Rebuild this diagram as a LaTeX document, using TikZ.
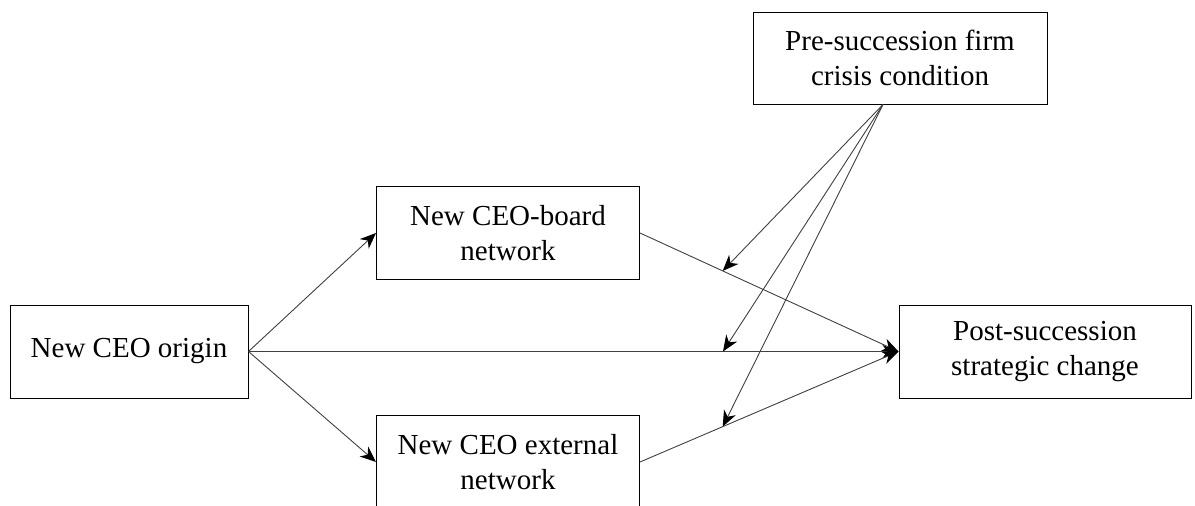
\documentclass[tikz,border=0pt]{standalone}
\usepackage{fontspec}
\setmainfont{Liberation Serif}
\usetikzlibrary{arrows.meta}

\begin{document}
\begin{tikzpicture}[x=1pt,y=-1pt,
    every node/.style={font=\fontsize{29}{35}\selectfont},
    varbox/.style={draw, line width=1pt, align=center, inner sep=0pt},
    link/.style={draw=black!75, line width=0.9pt, -{Stealth[length=16pt,width=13pt,inset=5pt,color=black]}}]
      \useasboundingbox (0,0) rectangle (1195,506);

      \node[varbox, minimum width=238pt, minimum height=93pt] (origin) at (129,351.5) {New CEO origin};
      \node[varbox, minimum width=263pt, minimum height=93pt] (board) at (508,233) {New CEO-board\\network};
      \node[varbox, minimum width=263pt, minimum height=93pt] (external) at (508,462) {New CEO external\\network};
      \node[varbox, minimum width=294pt, minimum height=92pt] (crisis) at (900,58) {Pre-succession firm\\crisis condition};
      \node[varbox, minimum width=292pt, minimum height=93pt] (post) at (1045,351.5) {Post-succession\\strategic change};

      \draw[link] (origin.east) -- (board.west);
      \draw[link] (origin.east) -- (external.west);
      \draw[link] (origin.east) -- coordinate[pos=0.73] (mid) (post.west);
      \draw[link] (board.east) -- coordinate[pos=0.32] (upper) (post.west);
      \draw[link] (external.east) -- coordinate[pos=0.32] (lower) (post.west);

      % moderating effects
      \coordinate (cs) at ([xshift=-17pt]crisis.south);
      \foreach \t in {upper,mid,lower}
        \draw[link] (cs) -- (\t);
    \end{tikzpicture}
\end{document}
